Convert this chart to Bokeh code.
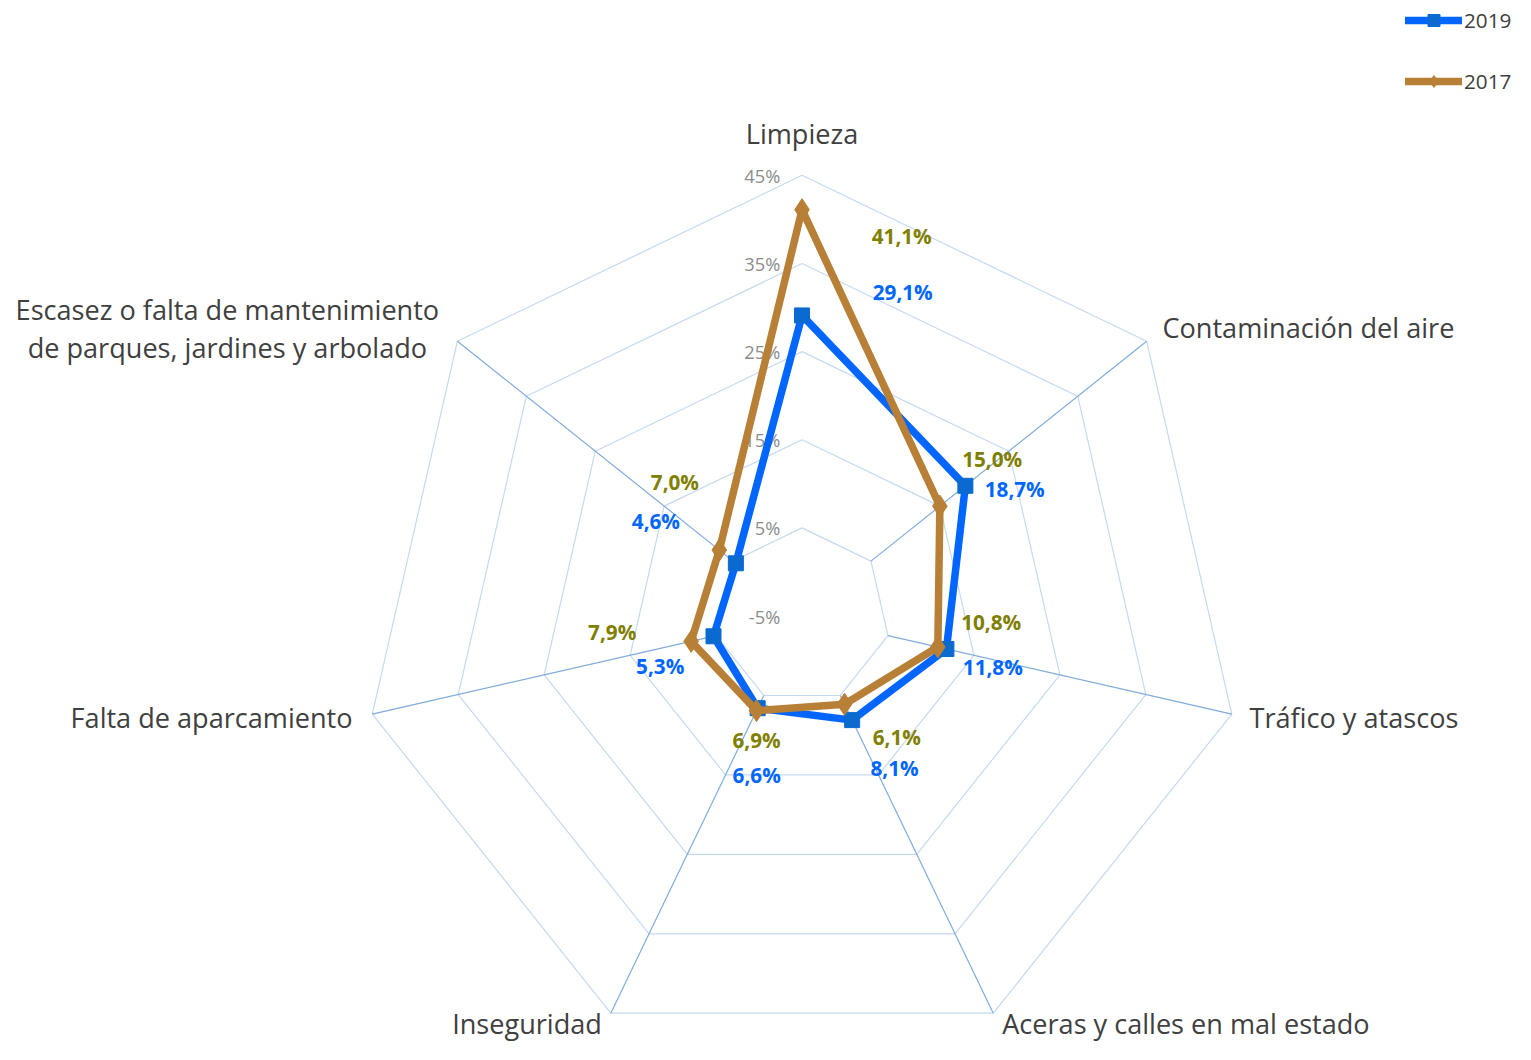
import math
from bokeh.plotting import figure
from bokeh.models import Range1d, Legend, LegendItem, ColumnDataSource
from bokeh.embed import file_html
from bokeh.resources import INLINE
from bokeh.core.properties import value

# ---------------- data ----------------
categories = [
    "Limpieza",
    "Contaminación del aire",
    "Tráfico y atascos",
    "Aceras y calles en mal estado",
    "Inseguridad",
    "Falta de aparcamiento",
    "Escasez o falta de mantenimiento\nde parques, jardines y arbolado",
]
values_2019 = [29.1, 18.7, 11.8, 8.1, 6.6, 5.3, 4.6]
values_2017 = [41.1, 15.0, 10.8, 6.1, 6.9, 7.9, 7.0]
labels_2019 = ["29,1%", "18,7%", "11,8%", "8,1%", "6,6%", "5,3%", "4,6%"]
labels_2017 = ["41,1%", "15,0%", "10,8%", "6,1%", "6,9%", "7,9%", "7,0%"]
ticks = [-5, 5, 15, 25, 35, 45]
tick_labels = ["-5%", "5%", "15%", "25%", "35%", "45%"]

# ---------------- layout ----------------
W, H = 1515, 1044
SX, SY = W / 1531, H / 1060
S = (SX + SY) / 2
R_MIN = -5
PX = 8.93 * S                   # pixels per percentage point
CX, CY = 810 * SX, 625 * SY     # centre in frame pixels (from top-left)
N = len(categories)


def fs(px):
    return f"{px * S:.1f}px"


FONT = "Open Sans"
TEXT_COLOR = "#404040"
BLUE = "#0066FF"
BLUE_MARK = "#0A6AD0"
BROWN = "#B87F36"
OLIVE = "#808000"
RING = "#C6D9F0"
SPOKE = "#80ACDC"

# label offsets (reference pixels) relative to each point
off_2019 = [(102, -24), (50, 3), (47, 18), (43, 48), (-1, 68), (-54, 30), (-81, -43)]
off_2017 = [(101, 27), (53, -48), (54, -25), (53, 33), (0, 30), (-80, -10), (-45, -69)]
# category label offsets relative to outer vertex, with alignment
cat_off = [(0, -42, "center"), (16, -14, "left"), (18, 3, "left"), (9, 10, "left"),
           (-9, 10, "right"), (-20, 3, "right"), (-233, -13, "center")]


def theta(k):
    return math.pi / 2 - 2 * math.pi * k / N


def pol(v, k):
    r = v - R_MIN
    return r * math.cos(theta(k)), r * math.sin(theta(k))


p = figure(width=W, height=H, output_backend="svg", toolbar_location=None,
           x_range=Range1d(-CX / PX, (W - CX) / PX),
           y_range=Range1d(-(H - CY) / PX, CY / PX),
           x_axis_location=None, y_axis_location=None,
           min_border=0, tools="")
p.grid.visible = False
p.outline_line_color = None
p.background_fill_color = "white"
p.border_fill_color = "white"

# rings
for t in ticks[1:]:
    pts = [pol(t, k) for k in range(N)] + [pol(t, 0)]
    p.line([a for a, b in pts], [b for a, b in pts], line_color=RING, line_width=1.2)

# spokes (not for the first/value axis)
x0s, y0s, x1s, y1s = [], [], [], []
for k in range(1, N):
    a0, b0 = pol(ticks[1], k)
    a1, b1 = pol(ticks[-1], k)
    x0s.append(a0); y0s.append(b0); x1s.append(a1); y1s.append(b1)
p.segment(x0s, y0s, x1s, y1s, line_color=SPOKE, line_width=1.2)

# tick labels
tx = [pol(t, 0)[0] for t in ticks]
ty = [pol(t, 0)[1] for t in ticks]
p.text(tx, ty, text=tick_labels, x_offset=-22 * S, text_align="right",
       text_baseline="middle", text_font=value(FONT), text_font_size=fs(18.5),
       text_color="#8C8C8C")

# series
def series(vals):
    pts = [pol(v, k) for k, v in enumerate(vals)]
    return [a for a, b in pts], [b for a, b in pts]

x19, y19 = series(values_2019)
x17, y17 = series(values_2017)

l19 = p.line(x19 + [x19[0]], y19 + [y19[0]], line_color=BLUE, line_width=7.5,
             line_join="round", line_cap="round")
m19 = p.scatter(x19, y19, marker="square", size=15, fill_color=BLUE_MARK,
                line_color=BLUE_MARK)
l17 = p.line(x17 + [x17[0]], y17 + [y17[0]], line_color=BROWN, line_width=7.5,
             line_join="round", line_cap="round")
m17 = p.scatter(x17, y17, marker="diamond", size=22, fill_color=BROWN,
                line_color=BROWN)

# data labels
for xs, ys, labs, offs, col in [(x19, y19, labels_2019, off_2019, BLUE),
                                (x17, y17, labels_2017, off_2017, OLIVE)]:
    src = ColumnDataSource(dict(x=xs, y=ys, t=labs,
                                dx=[o[0] * S for o in offs],
                                dy=[o[1] * S for o in offs]))
    p.text("x", "y", text="t", x_offset="dx", y_offset="dy", source=src,
           text_align="center", text_baseline="middle", text_font=value(FONT),
           text_font_size=fs(21), text_font_style="bold", text_color=col)

# category labels
for k, c in enumerate(categories):
    a, b = pol(ticks[-1], k)
    dx, dy, al = cat_off[k]
    p.text([a], [b], text=[c], x_offset=dx * S, y_offset=dy * S, text_align=al,
           text_baseline="middle", text_font=value(FONT), text_font_size=fs(27.5),
           text_color=TEXT_COLOR, text_line_height=1.02)

# legend
legend = Legend(items=[LegendItem(label="2019", renderers=[l19, m19]),
                       LegendItem(label="2017", renderers=[l17, m17])],
                location=(1405, 948), orientation="vertical",
                glyph_width=57, glyph_height=30, spacing=31, padding=0,
                margin=0, label_standoff=2, border_line_color=None,
                background_fill_alpha=0, label_text_font=FONT,
                label_text_font_size=fs(21), label_text_color=TEXT_COLOR)
p.add_layout(legend)

open("out.html", "w").write(file_html(p, INLINE))
